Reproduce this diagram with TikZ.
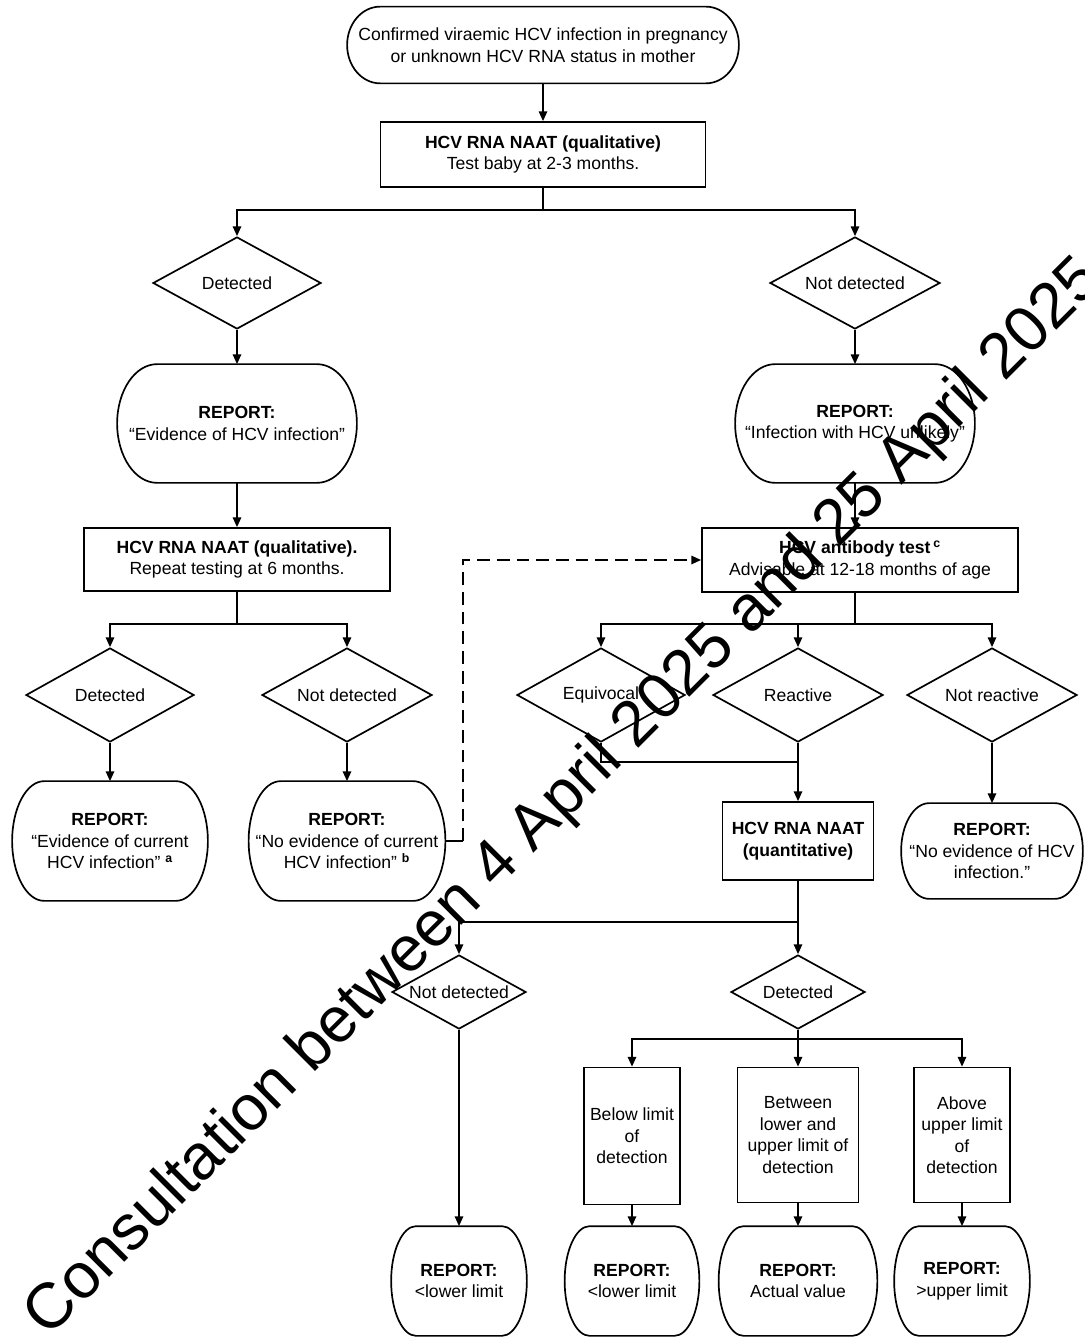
\documentclass[tikz,border=0pt]{standalone}
\usepackage{fontspec}
\setmainfont{Liberation Sans}
\usetikzlibrary{shapes.geometric,arrows.meta,calc}

% outline of a terminal: straight top/bottom, half-ellipse ends (#2 = end width in px)
\newcommand{\termoutline}[2]{%
  \draw let \p1=(#1.north), \p2=(#1.south), \n1={(\y1-\y2)/2} in
    ([xshift=#2*0.025cm]#1.north west) -- ([xshift=-#2*0.025cm]#1.north east)
    arc[start angle=90, end angle=-90, x radius=#2*0.025cm, y radius=\n1]
    -- ([xshift=#2*0.025cm]#1.south west)
    arc[start angle=270, end angle=90, x radius=#2*0.025cm, y radius=\n1]
    -- cycle;}

\tikzset{
  process/.style={draw, rectangle, inner sep=1pt},
  decision/.style={draw, diamond, aspect=2, inner sep=0pt},
  terminal/.style={inner sep=0pt},
  dashedline/.style={dash pattern=on 9pt off 5pt},
}

\begin{document}
\begin{tikzpicture}[x=0.025cm, y=-0.025cm, font=\fontsize{12.5}{15.3}\selectfont, line width=1.2pt,
  >={Triangle[length=7pt,width=6pt]}, every node/.style={align=center}]
  \useasboundingbox (0,0) rectangle (1084,1338);
  \clip (0,0) rectangle (1084,1338);

  % top of the chart
  \node[terminal, minimum width=9.75cm, minimum height=1.875cm] (start) at (543,45) {Confirmed viraemic HCV infection in pregnancy\\or unknown HCV RNA status in mother};
  \node[process, minimum width=8.125cm, minimum height=1.625cm] (naat1) at (543,154.5) {\textbf{HCV RNA NAAT (qualitative)}\\Test baby at 2-3 months.};

  \node[decision, minimum width=4.2cm, minimum height=2.3cm] (det1) at (237,283) {Detected};
  \node[decision, minimum width=4.25cm, minimum height=2.3cm] (nd1) at (855,283) {Not detected};

  \node[terminal, minimum width=5.95cm, minimum height=2.925cm] (rep1) at (237,423.5) {\textbf{REPORT:}\\“Evidence of HCV infection”};
  \node[terminal, minimum width=5.95cm, minimum height=2.925cm] (rep2) at (855,423.5) {\textbf{REPORT:}\\“Infection with HCV unlikely”};

  % left branch
  \node[process, minimum width=7.65cm, minimum height=1.575cm] (naat2) at (237,559.5) {\textbf{HCV RNA NAAT (qualitative).}\\Repeat testing at 6 months.};
  \node[decision, minimum width=4.2cm, minimum height=2.35cm] (det2) at (110,695) {Detected};
  \node[decision, minimum width=4.25cm, minimum height=2.35cm] (nd2) at (347,695) {Not detected};
  \node[terminal, minimum width=4.85cm, minimum height=2.95cm] (rep3) at (110,841) {\textbf{REPORT:}\\“Evidence of current\\HCV infection” \textsuperscript{\bfseries a}};
  \node[terminal, minimum width=4.875cm, minimum height=2.95cm] (rep4) at (347,841) {\textbf{REPORT:}\\“No evidence of current\\HCV infection” \textsuperscript{\bfseries b}};

  % right branch
  \node[process, minimum width=7.9cm, minimum height=1.6cm] (ab) at (860,560) {\textbf{HCV antibody test}\,\textsuperscript{\bfseries c}\\Advisable at 12-18 months of age};
  \node[decision, minimum width=4.2cm, minimum height=2.35cm] (eq) at (601,695) {Equivocal};
  \node[decision, minimum width=4.25cm, minimum height=2.35cm] (react) at (798,695) {Reactive};
  \node[decision, minimum width=4.25cm, minimum height=2.35cm] (nr) at (992,695) {Not reactive};
  \node[process, minimum width=3.775cm, minimum height=1.95cm] (naat3) at (798,841) {\textbf{HCV RNA NAAT}\\\textbf{(quantitative)}};
  \node[terminal, minimum width=4.5cm, minimum height=2.35cm] (rep5) at (992,851) {\textbf{REPORT:}\\“No evidence of HCV\\infection.”};

  \node[decision, minimum width=3.35cm, minimum height=1.85cm] (nd3) at (459,992) {Not detected};
  \node[decision, minimum width=3.35cm, minimum height=1.85cm] (det3) at (798,992) {Detected};

  \node[process, minimum width=2.4cm, minimum height=3.425cm] (below) at (632,1136) {Below limit\\of\\detection};
  \node[process, minimum width=3.025cm, minimum height=3.375cm] (betw) at (798,1135) {Between\\lower and\\upper limit of\\detection};
  \node[process, minimum width=2.4cm, minimum height=3.375cm] (above) at (962,1135) {Above\\upper limit\\of\\detection};

  \node[terminal, minimum width=3.35cm, minimum height=2.7cm] (rep6) at (459,1281) {\textbf{REPORT:}\\<lower limit};
  \node[terminal, minimum width=3.325cm, minimum height=2.7cm] (rep7) at (632,1281) {\textbf{REPORT:}\\<lower limit};
  \node[terminal, minimum width=3.925cm, minimum height=2.7cm] (rep8) at (798,1281) {\textbf{REPORT:}\\Actual value};
  \node[terminal, minimum width=3.35cm, minimum height=2.7cm] (rep9) at (962,1281) {\textbf{REPORT:}\\>upper limit};

  % terminal outlines
  \termoutline{start}{33}
  \termoutline{rep1}{40}
  \termoutline{rep2}{40}
  \termoutline{rep3}{32}
  \termoutline{rep4}{32}
  \termoutline{rep5}{28}
  \termoutline{rep6}{25}
  \termoutline{rep7}{25}
  \termoutline{rep8}{25}
  \termoutline{rep9}{25}

  % split points
  \coordinate (s1) at (543,210);
  \coordinate (s2) at (237,624);
  \coordinate (s3) at (855,624);
  \coordinate (dj) at (463,841);
  \coordinate (j1) at (798,762);
  \coordinate (s4) at (798,922);
  \coordinate (s5) at (798,1039);

  % arrows
  \draw[->] (start) -- (naat1);
  \draw (naat1) -- (s1);
  \draw[->] (s1) -| (det1);
  \draw[->] (s1) -| (nd1);
  \draw[->] (det1) -- (rep1);
  \draw[->] (nd1) -- (rep2);
  \draw[->] (rep1) -- (naat2);
  \draw[->] (rep2) -- (rep2 |- ab.north);

  \draw (naat2) -- (s2);
  \draw[->] (s2) -| (det2);
  \draw[->] (s2) -| (nd2);
  \draw[->] (det2) -- (rep3);
  \draw[->] (nd2) -- (rep4);
  \draw (rep4) -- (dj);
  \draw[->, dashedline] (dj) |- (ab);

  \draw (s3 |- ab.south) -- (s3);
  \draw[->] (s3) -| (eq);
  \draw[->] (s3) -| (react);
  \draw[->] (s3) -| (nr);
  \draw (eq) |- (j1);
  \draw[->] (react) -- (naat3);
  \draw[->] (nr) -- (rep5);

  \draw (naat3) -- (s4);
  \draw[->] (s4) -- (det3);
  \draw[->] (s4) -| (nd3);
  \draw[->] (nd3) -- (rep6);
  \draw (det3) -- (s5);
  \draw[->] (s5) -| (below);
  \draw[->] (s5) -- (betw);
  \draw[->] (s5) -| (above);
  \draw[->] (below) -- (rep7);
  \draw[->] (betw) -- (rep8);
  \draw[->] (above) -- (rep9);

  % watermark
  \node[rotate=45, anchor=base west, inner sep=0pt, font=\fontsize{45.5}{50}\selectfont] (wmark) at (48,1339) {Consultation between 4 April 2025 and 25 April 2025};
\end{tikzpicture}
\end{document}
